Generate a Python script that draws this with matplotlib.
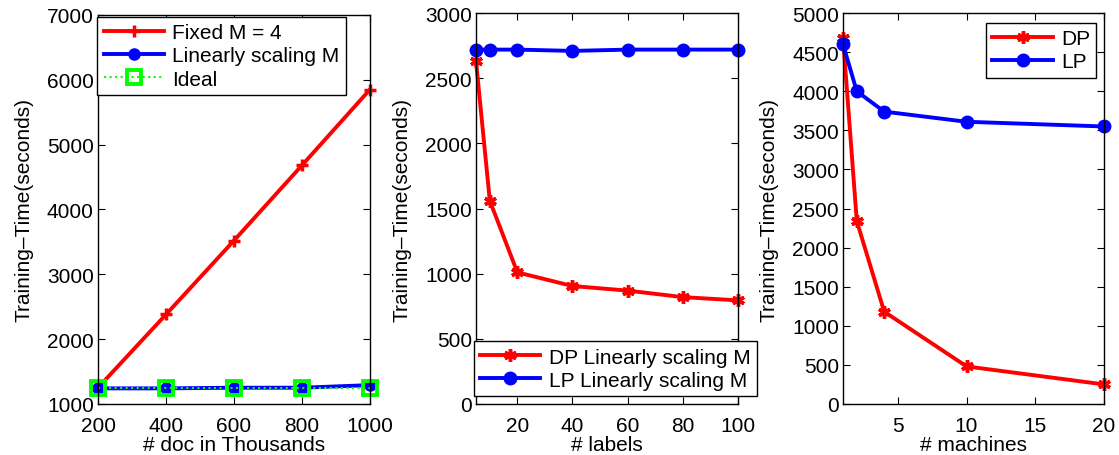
import matplotlib
matplotlib.use('Agg')
import matplotlib.pyplot as plt

plt.rcParams['font.family'] = ['Liberation Sans', 'DejaVu Sans']
plt.rcParams['font.size'] = 15

# panel 1: scaling documents
docs = [200, 400, 600, 800, 1000]
fixed_m = [1250, 2380, 3520, 4680, 5850]
linear_m = [1240, 1240, 1250, 1250, 1290]
ideal = [1240, 1240, 1240, 1240, 1240]

# panel 2: scaling labels
labels = [5, 10, 20, 40, 60, 80, 100]
dp_labels = [2630, 1560, 1010, 905, 870, 820, 795]
lp_labels = [2720, 2720, 2720, 2710, 2720, 2720, 2720]

# panel 3: scaling machines
machines = [1, 2, 4, 10, 20]
dp_machines = [4680, 2340, 1180, 480, 250]
lp_machines = [4600, 4000, 3740, 3610, 3550]

ylabel = 'Training\u2013Time(seconds)'
lw = 2.8
ast = (6, 2, 0)
leg_kw = dict(fancybox=False, edgecolor='black', framealpha=1, borderaxespad=0.1,
              handlelength=2.9, handletextpad=0.4, labelspacing=0.2, borderpad=0.3)

fig = plt.figure(figsize=(11.19, 4.56), dpi=100)
ax1 = fig.add_axes([0.0876, 0.112, 0.243, 0.853])
ax2 = fig.add_axes([0.4254, 0.112, 0.234, 0.857])
ax3 = fig.add_axes([0.7534, 0.112, 0.233, 0.857])

ax1.plot(docs, fixed_m, 'r-', marker='+', ms=9, mew=2.5, lw=lw, label='Fixed M = 4')
ax1.plot(docs, linear_m, 'b-', marker='o', ms=8, lw=lw, label='Linearly scaling M')
ax1.plot(docs, ideal, color='#00ff00', ls=':', marker='s', ms=10, mew=2.8,
         mfc='none', lw=1.5, label='Ideal')
ax1.set_xlim(200, 1000)
ax1.set_ylim(1000, 7000)
ax1.set_xticks(docs)
ax1.set_yticks(range(1000, 7001, 1000))
ax1.set_xlabel('# doc in Thousands')
ax1.set_ylabel(ylabel)
ax1.legend(loc='upper left', bbox_to_anchor=(-0.01, 1.0), **leg_kw)

ax2.plot(labels, dp_labels, 'r-', marker=ast, ms=9, mew=2.5, lw=lw, label='DP Linearly scaling M')
ax2.plot(labels, lp_labels, 'b-', marker='o', ms=9, lw=lw, label='LP Linearly scaling M')
ax2.set_xlim(5, 100)
ax2.set_ylim(0, 3000)
ax2.set_xticks([20, 40, 60, 80, 100])
ax2.set_yticks(range(0, 3001, 500))
ax2.set_xlabel('# labels')
ax2.set_ylabel(ylabel)
ax2.legend(loc='lower right', bbox_to_anchor=(1.08, 0.015), **leg_kw)

ax3.plot(machines, dp_machines, 'r-', marker=ast, ms=9, mew=2.5, lw=lw, label='DP')
ax3.plot(machines, lp_machines, 'b-', marker='o', ms=9, lw=lw, label='LP')
ax3.set_xlim(1, 20)
ax3.set_ylim(0, 5000)
ax3.set_xticks([5, 10, 15, 20])
ax3.set_yticks(range(0, 5001, 500))
ax3.set_xlabel('# machines')
ax3.set_ylabel(ylabel)
ax3.legend(loc='upper right', bbox_to_anchor=(0.98, 0.98), **leg_kw)

for ax in (ax1, ax2, ax3):
    ax.tick_params(direction='in', top=True, right=True, length=5, width=0.8)
    ax.tick_params(axis='x', pad=9)
    ax.tick_params(axis='y', pad=3)
    ax.xaxis.labelpad = 0
    ax.yaxis.labelpad = 10
    for sp in ax.spines.values():
        sp.set_linewidth(1.0)
    for line in ax.get_lines():
        line.set_clip_on(False)

fig.savefig('out.png', dpi=100)
